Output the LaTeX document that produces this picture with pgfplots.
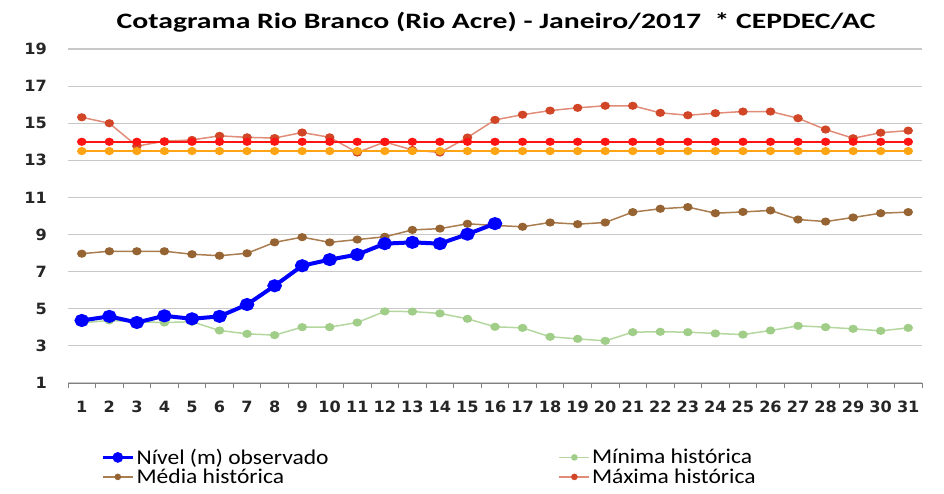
\documentclass[border=0pt]{standalone}
\usepackage{pgfplots}
\pgfplotsset{compat=1.18}
\usepackage{fontspec}
\setmainfont{Carlito}
\newfontfamily\tickfont{DejaVu Sans}[FakeStretch=1.04]
\newfontfamily\titlefont{Carlito}[FakeStretch=1.35]
\newfontfamily\legfont{Carlito}[FakeStretch=1.12]
\definecolor{obsblue}{RGB}{0,0,255}
\definecolor{minline}{RGB}{180,215,160}
\definecolor{minmark}{RGB}{160,205,135}
\definecolor{medline}{RGB}{170,125,80}
\definecolor{medmark}{RGB}{150,100,50}
\definecolor{maxline}{RGB}{225,140,120}
\definecolor{maxmark}{RGB}{210,70,40}
\definecolor{redc}{RGB}{255,20,20}
\definecolor{orangec}{RGB}{255,165,20}
\definecolor{gridc}{RGB}{200,200,200}
\begin{document}
\begin{tikzpicture}
\useasboundingbox (0,0) rectangle (944pt,493pt);
\node[font=\titlefont\bfseries\fontsize{22}{26}\selectfont] at (496pt,471pt) {Cotagrama Rio Branco (Rio Acre) - Janeiro/2017 \ * CEPDEC/AC};
\begin{axis}[
  at={(68pt,110pt)}, anchor=south west,
  scale only axis, width=854pt, height=334pt,
  xmin=0.5, xmax=31.5, ymin=1, ymax=19,
  ytick={1,3,5,7,9,11,13,15,17,19},
  yticklabels={1,3,5,7,9,11,13,15,17,19},
  xtick={1,...,31},
  xticklabels={1,2,3,4,5,6,7,8,9,10,11,12,13,14,15,16,17,18,19,20,21,22,23,24,25,26,27,28,29,30,31},
  minor xtick={0.5,1.5,...,31.5},
  major tick length=0pt, minor tick length=5pt, tick align=outside,
  minor tick style={gray, line width=0.8pt},
  ymajorgrids, grid style={gridc, line width=1.2pt},
  axis x line*=bottom, axis y line*=left,
  x axis line style={gray, line width=0.8pt},
  y axis line style={draw=none},
  ytick style={draw=none},
  ticklabel style={font=\tickfont\bfseries\fontsize{15.5}{16}\selectfont, text=black!85},
  yticklabel style={inner sep=0pt, xshift=-21pt},
  xticklabel style={anchor=north, inner sep=0pt, yshift=-18pt},
  clip=false,
  legend columns=2,
  legend style={at={(axis description cs:0.035,-0.185)}, anchor=north west, draw=none,
    font=\legfont\fontsize{21}{24}\selectfont, row sep=-1pt,
    /tikz/every even column/.append style={column sep=228pt}},
  legend cell align=left,
  legend image code/.code={\draw[mark repeat=2,mark phase=2] plot coordinates {(0pt,0pt)(15pt,0pt)(30pt,0pt)};},
  every axis plot/.append style={mark=*},
]
% Maxima historica
\addplot[forget plot, maxline, line width=1.5pt, mark options={fill=maxmark, draw=maxmark, xscale=1.2}, mark size=3.3pt] coordinates {
(1,15.32)(2,15.0)(3,13.77)(4,14.03)(5,14.1)(6,14.32)(7,14.24)(8,14.2)(9,14.5)(10,14.24)
(11,13.42)(12,13.99)(13,13.56)(14,13.42)(15,14.23)(16,15.18)(17,15.46)(18,15.68)(19,15.83)(20,15.94)
(21,15.94)(22,15.56)(23,15.43)(24,15.54)(25,15.63)(26,15.63)(27,15.27)(28,14.66)(29,14.19)(30,14.49)(31,14.6)};
% cota 13.5
\addplot[forget plot, orangec, line width=1.5pt, mark options={fill=orangec, draw=orangec, xscale=1.2}, mark size=3.3pt] coordinates {
(1,13.5)(2,13.5)(3,13.5)(4,13.5)(5,13.5)(6,13.5)(7,13.5)(8,13.5)(9,13.5)(10,13.5)
(11,13.5)(12,13.5)(13,13.5)(14,13.5)(15,13.5)(16,13.5)(17,13.5)(18,13.5)(19,13.5)(20,13.5)
(21,13.5)(22,13.5)(23,13.5)(24,13.5)(25,13.5)(26,13.5)(27,13.5)(28,13.5)(29,13.5)(30,13.5)(31,13.5)};
% cota 14
\addplot[forget plot, redc, line width=1.5pt, mark options={fill=redc, draw=redc, xscale=1.2}, mark size=3.3pt] coordinates {
(1,14)(2,14)(3,14)(4,14)(5,14)(6,14)(7,14)(8,14)(9,14)(10,14)
(11,14)(12,14)(13,14)(14,14)(15,14)(16,14)(17,14)(18,14)(19,14)(20,14)
(21,14)(22,14)(23,14)(24,14)(25,14)(26,14)(27,14)(28,14)(29,14)(30,14)(31,14)};
% Minima historica
\addplot[forget plot, minline, line width=1.5pt, mark options={fill=minmark, draw=minmark, xscale=1.2}, mark size=3.3pt] coordinates {
(1,4.24)(2,4.37)(3,4.3)(4,4.26)(5,4.3)(6,3.83)(7,3.65)(8,3.58)(9,4.01)(10,4.01)
(11,4.26)(12,4.86)(13,4.85)(14,4.75)(15,4.46)(16,4.03)(17,3.97)(18,3.49)(19,3.38)(20,3.27)
(21,3.74)(22,3.76)(23,3.74)(24,3.67)(25,3.61)(26,3.83)(27,4.08)(28,4.01)(29,3.92)(30,3.81)(31,3.97)};
% Media historica
\addplot[forget plot, medline, line width=1.5pt, mark options={fill=medmark, draw=medmark, xscale=1.2}, mark size=3.3pt] coordinates {
(1,7.97)(2,8.1)(3,8.1)(4,8.1)(5,7.94)(6,7.86)(7,7.99)(8,8.58)(9,8.86)(10,8.58)
(11,8.73)(12,8.88)(13,9.25)(14,9.32)(15,9.58)(16,9.49)(17,9.42)(18,9.65)(19,9.56)(20,9.65)
(21,10.21)(22,10.39)(23,10.48)(24,10.15)(25,10.22)(26,10.3)(27,9.81)(28,9.7)(29,9.92)(30,10.15)(31,10.21)};
% Nivel observado
\addplot[forget plot, obsblue, line width=4pt, mark options={fill=obsblue, draw=obsblue, xscale=1.15}, mark size=4.5pt] coordinates {
(1,4.37)(2,4.59)(3,4.26)(4,4.62)(5,4.46)(6,4.59)(7,5.23)(8,6.24)(9,7.32)(10,7.65)
(11,7.92)(12,8.51)(13,8.58)(14,8.51)(15,9.02)(16,9.59)};
% legend
\addlegendimage{obsblue, line width=3.5pt, mark=*, mark size=3.5pt, mark options={fill=obsblue}}
\addlegendentry{Nível (m) observado}
\addlegendimage{minline, line width=1.5pt, mark=*, mark size=2.5pt, mark options={fill=minmark, draw=minmark}}
\addlegendentry{Mínima histórica}
\addlegendimage{medline, line width=1.5pt, mark=*, mark size=2.5pt, mark options={fill=medmark, draw=medmark}}
\addlegendentry{Média histórica}
\addlegendimage{maxline, line width=1.5pt, mark=*, mark size=2.5pt, mark options={fill=maxmark, draw=maxmark}}
\addlegendentry{Máxima histórica}
\end{axis}
\end{tikzpicture}
\end{document}
